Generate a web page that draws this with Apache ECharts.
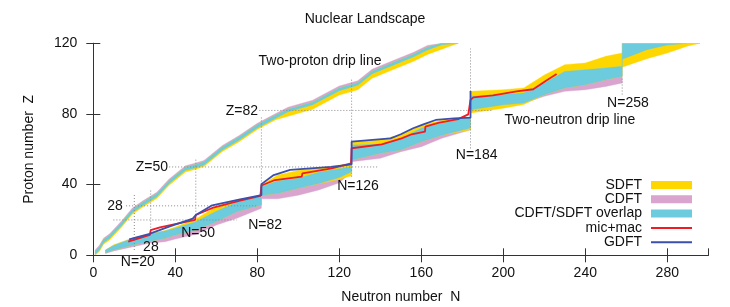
<!DOCTYPE html>
<html><head><meta charset="utf-8">
<script src="https://cdn.jsdelivr.net/npm/echarts@6/dist/echarts.min.js"></script>
<style>html,body{margin:0;padding:0;background:#fff}#c{width:730px;height:307px}</style>
</head><body><div id="c"></div>
<script>
// ---------- DATA ----------
const xTicks = [0, 40, 80, 120, 160, 200, 240, 280];
const yTicks = [0, 40, 80, 120];

// Two-proton drip line band (N, Z edges)
const protonN        = [1, 3, 5, 8, 14, 19, 24, 31, 37, 45, 50, 54, 63, 71, 80, 89, 95, 107, 120, 129, 136, 146, 156, 163, 170, 178];
const protonSdftLo   = [0.2, 2.2, 6.2, 8.7, 16.2, 23.2, 27.2, 32.2, 39.7, 47.2, 48.7, 50.2, 58.7, 64.2, 71.2, 76.7, 78.7, 82.7, 90.7, 93.7, 100.2, 105, 109.7, 113.7, 116.7, 120];
const protonSdftHi   = [2.4, 4.9, 8.9, 11.4, 18.9, 25.9, 29.9, 34.9, 42.4, 49.9, 51.4, 52.9, 61.4, 66.9, 73.9, 79.4, 82.7, 86.7, 94.7, 97.7, 104.2, 109, 113.7, 117.7, 120, 120];
const protonOverLo   = [0.6, 3.1, 7.1, 9.6, 17.1, 24.1, 28.1, 33.1, 40.6, 48.1, 49.6, 51.1, 59.6, 65.1, 72.1, 77.6, 81.2, 85.2, 93.2, 96.2, 102.7, 107.5, 112.2, 116.2, 119.2, 120];
const protonOverHi   = [2.4, 4.9, 8.9, 11.4, 18.9, 25.9, 29.9, 34.9, 42.4, 49.9, 51.4, 52.9, 61.4, 66.9, 73.9, 79.4, 82.7, 86.7, 94.7, 97.7, 104.2, 109, 113.7, 117.7, 120, 120];
const protonCdftLo   = [0.6, 3.1, 7.1, 9.6, 17.1, 24.1, 28.1, 33.1, 40.6, 48.1, 49.6, 51.1, 59.6, 65.1, 72.1, 77.6, 81.2, 85.2, 93.2, 96.2, 102.7, 107.5, 112.2, 116.2, 119.2, 120];
const protonCdftHi   = [3.2, 5.7, 9.7, 12.2, 19.7, 26.7, 30.7, 35.7, 43.2, 50.7, 52.2, 53.7, 62.2, 67.7, 74.7, 80.2, 83.8, 87.8, 95.8, 98.8, 105.3, 110.1, 114.8, 118.8, 120, 120];

// Two-neutron drip line band
const neutronN       = [6, 10, 20, 28, 35, 40, 50, 60, 70, 82, 82, 90, 100, 110, 120, 126, 126, 140, 150, 160, 170, 184, 184, 200, 210, 220, 230, 240, 250, 258, 258, 270, 280, 290, 296];
const neutronSdftLo  = [1.5, 3, 6, 8, 9.6, 11.5, 14.3, 19, 24.7, 28.5, 34, 35, 38, 40.5, 43, 45, 54, 57.7, 59.6, 64.3, 68, 71, 80.5, 83.3, 85.3, 90.9, 94.7, 96.5, 99.4, 101.3, 106.5, 111.3, 114.5, 118.5, 120];
const neutronSdftHi  = [3, 6, 10, 12.4, 14, 16, 20.5, 27.5, 31.5, 33.7, 40, 45.5, 48, 49.5, 51, 52, 64, 65.5, 68.2, 73.8, 76.5, 78, 92.8, 93.7, 94.7, 102, 107.9, 108.8, 112.6, 114.5, 120, 120, 120, 120, 120];
const neutronOverLo  = [1.5, 3, 6, 8, 9.6, 11.5, 14.3, 19, 24.7, 28.5, 34, 35, 38, 40.7, 44, 47.3, 54, 57.7, 59.6, 64.3, 68, 72, 82.4, 85.2, 86.2, 90.9, 94.7, 96.5, 99.4, 101.3, 111, 116.4, 119, 120, 120];
const neutronOverHi  = [3, 5.5, 10, 12, 13.7, 15.3, 19, 25, 30, 33.5, 39, 42, 43.6, 47, 49, 50, 62.4, 62.8, 66, 71.9, 74.7, 78, 90, 91, 91.8, 97.5, 104.1, 105, 106, 107, 120, 120, 120, 120, 120];
const neutronCdftN   = [6, 10, 20, 28, 35, 40, 50, 60, 70, 82, 82, 90, 100, 110, 120, 126, 126, 140, 150, 160, 170, 184, 184, 200, 210, 220, 230, 240, 250, 258];
const neutronCdftLo  = [1, 2.5, 5, 7, 7.7, 9.2, 11.9, 17.1, 21, 26.6, 32, 32, 34, 37, 41, 47.3, 53, 54.9, 58.6, 61.5, 66.2, 71, 82, 85, 86, 90, 92.8, 93.7, 95.6, 97.5];
const neutronCdftHi  = [3, 5.5, 10, 12, 13.7, 15.3, 19, 25, 30, 33.5, 39, 42, 43.6, 47, 49, 50, 62.4, 62.8, 66, 71.9, 74.7, 78, 90, 91, 91.8, 97.5, 104.1, 105, 106, 107];

// mic+mac and GDFT two-neutron drip lines
const micmacN = [17, 27.6, 28, 32.5, 49.6, 50, 58.5, 71.6, 81.5, 82, 88.6, 101.7, 102, 116.3, 125.7, 126, 140.7, 150.4, 155.3, 161.8, 162, 168.3, 178, 182.9, 184, 185.4, 195, 206.5, 214.6, 221, 226];
const micmacZ = [7.7, 11.5, 14.3, 15.8, 20, 22.8, 27, 31, 33.6, 39.5, 42.6, 44.5, 46.4, 49.2, 52.1, 60.6, 62.8, 66.2, 68.5, 70, 72.8, 75, 77.1, 79.8, 88, 89.4, 90.5, 92.8, 94, 99, 102.6];
const gdftN   = [17.5, 27, 37, 48.5, 50, 58, 71, 82, 82, 88, 96, 116, 126, 126, 145, 150, 156, 161, 167, 176, 184, 184];
const gdftZ   = [9, 12, 16.2, 20.8, 22.8, 28.3, 31.5, 34, 40.3, 45.4, 48.3, 50.1, 51.5, 64.3, 66.2, 68.5, 71.9, 74.1, 76.6, 77.5, 77.9, 93];

// magic-number guide lines
const magicN      = [20, 28, 50, 82, 126, 184, 258];
const magicNZfrom = [3, 14, 23, 35, 44.5, 60.5, 91];
const magicNZto   = [35, 37, 55, 78, 100, 117, 100];
const magicZ      = [20, 28, 50, 82];
const magicZNfrom = [9.8, 16, 37, 81];
const magicZNto   = [70, 80, 139, 195];

// annotations
const noteText = ['Two-proton drip line', 'Z=82', 'Z=50', '28', '28', 'N=20', 'N=50', 'N=82', 'N=126', 'N=184', 'Two-neutron drip line', 'N=258'];
const noteN    = [110.6, 72.5, 28.6, 10.6, 28.1, 21.7, 51.1, 83.8, 129.1, 187, 232.5, 260.8];
const noteZ    = [109.9, 81.7, 50.1, 27.9, 4.9, -3.8, 12.6, 17.1, 39.2, 56.8, 76.6, 86.4];

// ---------- CHART ----------
const FONT = "'Liberation Sans', Arial, sans-serif";
const C_SDFT = '#ffd700', C_CDFT = '#d9a5cf', C_OVER = '#6ccbdc', C_MIC = '#f01c24', C_GDFT = '#3a4fae';
const TXT = '#111';

function band(name, Ns, lo, hi, color) {
  return {
    type: 'custom', name: name, coordinateSystem: 'cartesian2d', clip: true, silent: true,
    color: color, itemStyle: { color: color },
    data: [[Ns[0], lo[0]]],
    renderItem: function (params, api) {
      const pts = [];
      for (let i = 0; i < Ns.length; i++) pts.push(api.coord([Ns[i], hi[i]]));
      for (let i = Ns.length - 1; i >= 0; i--) pts.push(api.coord([Ns[i], lo[i]]));
      return { type: 'polygon', shape: { points: pts }, style: { fill: color, stroke: color, lineWidth: 0.4 } };
    }
  };
}
function pairs(a, b) { return a.map((v, i) => [v, b[i]]); }

const series = [];
const guideStyle = { color: '#8a8a8a', width: 1, type: [1, 2] };
magicN.forEach((n, i) => series.push({ type: 'line', silent: true, symbol: 'none', lineStyle: guideStyle,
  data: [[n, magicNZfrom[i]], [n, magicNZto[i]]] }));
magicZ.forEach((z, i) => series.push({ type: 'line', silent: true, symbol: 'none', lineStyle: guideStyle,
  data: [[magicZNfrom[i], z], [magicZNto[i], z]] }));

series.push(band('CDFT', protonN, protonCdftLo, protonCdftHi, C_CDFT));
series.push(band('CDFT', neutronCdftN, neutronCdftLo, neutronCdftHi, C_CDFT));
series.push(band('SDFT', protonN, protonSdftLo, protonSdftHi, C_SDFT));
series.push(band('SDFT', neutronN, neutronSdftLo, neutronSdftHi, C_SDFT));
series.push(band('CDFT/SDFT overlap', protonN, protonOverLo, protonOverHi, C_OVER));
series.push(band('CDFT/SDFT overlap', neutronN, neutronOverLo, neutronOverHi, C_OVER));

series.push({ type: 'line', name: 'mic+mac', symbol: 'none', silent: true, color: C_MIC,
  lineStyle: { color: C_MIC, width: 1.8 }, data: pairs(micmacN, micmacZ) });
series.push({ type: 'line', name: 'GDFT', symbol: 'none', silent: true, color: C_GDFT,
  lineStyle: { color: C_GDFT, width: 1.8 }, data: pairs(gdftN, gdftZ) });

series.push({ type: 'scatter', silent: true, clip: false, symbolSize: 0, itemStyle: { opacity: 1 },
  data: noteText.map((t, i) => [noteN[i], noteZ[i], t]),
  label: { show: true, position: 'inside', formatter: p => p.data[2], color: TXT, opacity: 1, fontSize: 14, fontFamily: FONT } });

const lineIcon = 'path://M0,0H41V2H0Z';
const axisCommon = {
  axisLine: { show: true, lineStyle: { color: '#333', width: 1 } },
  axisTick: { show: true, length: 7, lineStyle: { color: '#333' } },
  splitLine: { show: false }
};

const option = {
  animation: false,
  backgroundColor: '#fff',
  title: { text: 'Nuclear Landscape', left: 'center', top: 7,
    textStyle: { fontSize: 14, fontWeight: 'normal', color: TXT, fontFamily: FONT } },
  grid: { left: 93.3, right: 21.7, top: 43.3, bottom: 51.7, containLabel: false, outerBoundsMode: 'none' },
  legend: {
    orient: 'vertical', right: 33, top: 173, align: 'right', itemWidth: 41, itemHeight: 8, itemGap: 0.3,
    selectedMode: false,
    textStyle: { fontSize: 14, color: TXT, fontFamily: FONT, lineHeight: 14, padding: [0, 4, 0, 0] },
    data: [
      { name: 'SDFT', icon: 'rect' },
      { name: 'CDFT', icon: 'rect' },
      { name: 'CDFT/SDFT overlap', icon: 'rect' },
      { name: 'mic+mac', icon: lineIcon, itemStyle: { borderWidth: 0, color: C_MIC } },
      { name: 'GDFT', icon: lineIcon, itemStyle: { borderWidth: 0, color: C_GDFT } }
    ]
  },
  xAxis: [
    Object.assign({ type: 'value', position: 'bottom', min: xTicks[0], max: 300, interval: xTicks[1] - xTicks[0],
      axisLabel: { color: TXT, fontSize: 14, fontFamily: FONT, margin: 11, showMaxLabel: false },
      name: 'Neutron number  N', nameLocation: 'middle', nameGap: 35,
      nameTextStyle: { fontSize: 14, color: TXT, fontFamily: FONT } }, axisCommon),
    Object.assign({ type: 'value', position: 'top', min: xTicks[0], max: 300, interval: xTicks[1] - xTicks[0],
      axisLabel: { show: false } }, axisCommon)
  ],
  yAxis: [
    Object.assign({ type: 'value', position: 'left', min: yTicks[0], max: yTicks[yTicks.length - 1], interval: yTicks[1] - yTicks[0],
      axisLabel: { color: TXT, fontSize: 14, fontFamily: FONT, margin: 16 },
      name: 'Proton number  Z', nameLocation: 'middle', nameGap: 57,
      nameTextStyle: { fontSize: 14, color: TXT, fontFamily: FONT } }, axisCommon),
    Object.assign({ type: 'value', position: 'right', min: yTicks[0], max: yTicks[yTicks.length - 1], interval: yTicks[1] - yTicks[0],
      axisLabel: { show: false } }, axisCommon)
  ],
  series: series
};

const chart = echarts.init(document.getElementById('c'), null, { renderer: 'canvas' });
chart.setOption(option);
</script></body></html>
